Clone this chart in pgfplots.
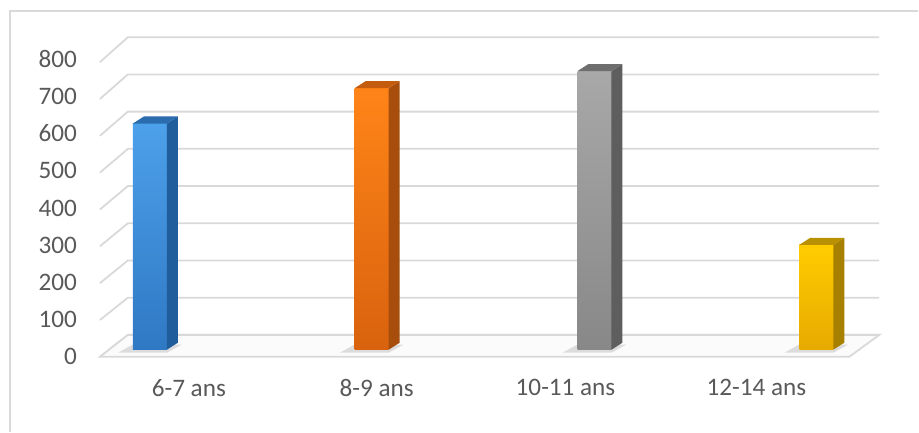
\documentclass[border=0pt]{standalone}
\usepackage{pgfplots}
\pgfplotsset{compat=1.18}
\usepackage{fontspec}
\setmainfont{Carlito}
\definecolor{grid}{HTML}{D9D9D9}
\definecolor{txt}{HTML}{595959}
\definecolor{blueT}{HTML}{4DA0EA}\definecolor{blueB}{HTML}{2F78C4}\definecolor{blueS}{HTML}{1F5D9C}\definecolor{blueTop}{HTML}{2A6CAD}
\definecolor{orT}{HTML}{FF8418}\definecolor{orB}{HTML}{D9620E}\definecolor{orS}{HTML}{A84E0C}\definecolor{orTop}{HTML}{C45C10}
\definecolor{grT}{HTML}{A8A8A8}\definecolor{grB}{HTML}{888888}\definecolor{grS}{HTML}{5E5E5E}\definecolor{grTop}{HTML}{6E6E6E}
\definecolor{yeT}{HTML}{FFCC00}\definecolor{yeB}{HTML}{E6AA00}\definecolor{yeS}{HTML}{A88000}\definecolor{yeTop}{HTML}{B89000}
\begin{document}
\begin{tikzpicture}
\begin{axis}[
  scale only axis, width=459.5pt, height=216pt,
  xmin=0, xmax=919, ymin=-220, ymax=940,
  clip=false,
  axis line style={draw=none}, tick style={draw=none},
  major tick length=0pt,
  ytick={0,100,...,800},
  xtick={189,377,566,757},
  xticklabels={6-7 ans,8-9 ans,10-11 ans,12-14 ans},
  /pgf/number format/assume math mode=true,
  tick label style={font=\fontsize{12.6}{15}\selectfont, text=txt},
  yticklabel style={anchor=east, xshift=42pt, yshift=-3.5pt},
  xticklabel style={anchor=center, yshift=22pt},
]
\path (rel axis cs:0,0) rectangle (rel axis cs:1,1);
% frame
\draw[grid, line width=0.8pt] (axis cs:10,-220) -- (axis cs:10,910) -- (axis cs:919,910);
% back wall gridlines
\draw[grid, line width=0.9pt] (axis cs:100,-19) -- (axis cs:128,40) -- (axis cs:880,40);
\draw[grid, line width=0.9pt] (axis cs:100,80) -- (axis cs:128,140) -- (axis cs:880,140);
\draw[grid, line width=0.9pt] (axis cs:100,179) -- (axis cs:128,240) -- (axis cs:880,240);
\draw[grid, line width=0.9pt] (axis cs:100,278) -- (axis cs:128,340) -- (axis cs:880,340);
\draw[grid, line width=0.9pt] (axis cs:100,377) -- (axis cs:128,440) -- (axis cs:880,440);
\draw[grid, line width=0.9pt] (axis cs:100,476) -- (axis cs:128,540) -- (axis cs:880,540);
\draw[grid, line width=0.9pt] (axis cs:100,575) -- (axis cs:128,640) -- (axis cs:880,640);
\draw[grid, line width=0.9pt] (axis cs:100,674) -- (axis cs:128,740) -- (axis cs:880,740);
\draw[grid, line width=0.9pt] (axis cs:100,773) -- (axis cs:128,840) -- (axis cs:880,840);
% floor
\draw[grid, line width=0.9pt, fill=gray!3] (axis cs:100,-19) -- (axis cs:850,-19) -- (axis cs:880,40) -- (axis cs:128,40) -- cycle;
% shadows
\fill[black, opacity=0.12] (axis cs:118,-8) -- (axis cs:167,-8) -- (axis cs:182,14) -- (axis cs:133,14) -- cycle;
\fill[black, opacity=0.12] (axis cs:340,-8) -- (axis cs:389,-8) -- (axis cs:404,14) -- (axis cs:355,14) -- cycle;
\fill[black, opacity=0.12] (axis cs:563,-8) -- (axis cs:612,-8) -- (axis cs:627,14) -- (axis cs:578,14) -- cycle;
\fill[black, opacity=0.12] (axis cs:785,-8) -- (axis cs:834,-8) -- (axis cs:849,14) -- (axis cs:800,14) -- cycle;

% bars: front faces
\addplot[ybar, bar width=17pt, bar shift=0pt, draw=none, top color=blueT, bottom color=blueB] coordinates {(150,608)};
\addplot[ybar, bar width=17pt, bar shift=0pt, draw=none, top color=orT, bottom color=orB] coordinates {(372,703)};
\addplot[ybar, bar width=17pt, bar shift=0pt, draw=none, top color=grT, bottom color=grB] coordinates {(595,749)};
\addplot[ybar, bar width=17pt, bar shift=0pt, draw=none, top color=yeT, bottom color=yeB] coordinates {(817,282)};
% side faces
\addplot[fill=blueS, draw=none] coordinates {(167,0) (178,19) (178,627) (167,608) (167,0)};
\addplot[fill=orS, draw=none] coordinates {(389,0) (400,19) (400,722) (389,703) (389,0)};
\addplot[fill=grS, draw=none] coordinates {(612,0) (623,19) (623,768) (612,749) (612,0)};
\addplot[fill=yeS, draw=none] coordinates {(834,0) (845,19) (845,301) (834,282) (834,0)};
% top faces
\addplot[fill=blueTop, draw=none] coordinates {(133,608) (167,608) (178,627) (144,627) (133,608)};
\addplot[fill=orTop, draw=none] coordinates {(355,703) (389,703) (400,722) (366,722) (355,703)};
\addplot[fill=grTop, draw=none] coordinates {(578,749) (612,749) (623,768) (589,768) (578,749)};
\addplot[fill=yeTop, draw=none] coordinates {(800,282) (834,282) (845,301) (811,301) (800,282)};
\end{axis}
\end{tikzpicture}
\end{document}
